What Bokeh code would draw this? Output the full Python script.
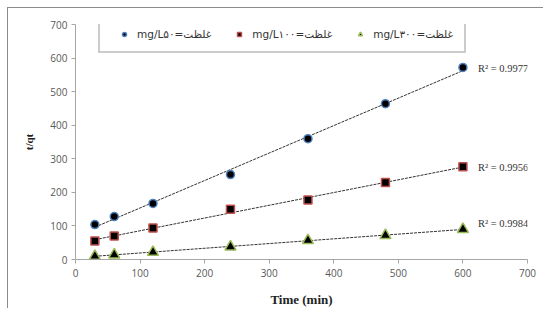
import numpy as np
from bokeh.plotting import figure
from bokeh.models import Legend, LegendItem, Range1d, FixedTicker, Label
from bokeh.embed import file_html
from bokeh.resources import INLINE

time_min = [30, 60, 120, 240, 360, 480, 600]
c50 = [104, 128, 167, 253, 360, 464, 572]
c100 = [55, 70, 94, 150, 177, 229, 276]
c300 = [10, 14, 22, 38, 57, 72, 90]
r2_labels = ["R\u00b2 = 0.9977", "R\u00b2 = 0.9956", "R\u00b2 = 0.9984"]
legend_labels = ["mg/L\u063a\u0644\u0638\u062a=\u06f5\u06f0",
                 "mg/L\u063a\u0644\u0638\u062a=\u06f1\u06f0\u06f0",
                 "mg/L\u063a\u0644\u0638\u062a=\u06f3\u06f0\u06f0"]
label_dy = [2, 0, 6]

p = figure(width=536, height=301, output_backend="svg", toolbar_location=None,
           x_range=Range1d(0, 700), y_range=Range1d(0, 700),
           min_border_left=67, min_border_right=17, min_border_top=16, min_border_bottom=50,
           styles={"margin-left": "7px", "margin-top": "7px",
                   "border-left": "1px solid #8c8c8c", "border-top": "1px solid #8c8c8c"})
p.outline_line_color = None
p.grid.visible = False
p.background_fill_color = "white"

for ax in (p.xaxis[0], p.yaxis[0]):
    ax.ticker = FixedTicker(ticks=list(range(0, 701, 100)))
    ax.axis_line_color = "#a6a6a6"
    ax.major_tick_line_color = "#a6a6a6"
    ax.minor_tick_line_color = None
    ax.major_tick_out = 4
    ax.major_tick_in = 0
    ax.major_label_text_font = "Open Sans"
    ax.major_label_text_font_size = "10px"
    ax.major_label_text_color = "#595959"
    ax.axis_label_text_font = "Liberation Serif"
    ax.axis_label_text_font_style = "bold"
    ax.axis_label_text_color = "#222222"

p.xaxis.axis_label = "Time (min)"
p.xaxis.axis_label_text_font_size = "13px"
p.xaxis.major_label_standoff = 5
p.xaxis.axis_label_standoff = 12
p.yaxis.axis_label = "t/qt"
p.yaxis.axis_label_text_font_size = "11px"
p.yaxis.major_label_standoff = 4
p.yaxis.axis_label_standoff = 12

series = [
    (c50, "circle", "#4F81BD", 8),
    (c100, "square", "#C0504D", 8),
    (c300, "triangle", "#9BBB59", 11),
]
items = []
for i, (vals, marker, edge, size) in enumerate(series):
    x = np.array(time_min, dtype=float)
    y = np.array(vals, dtype=float)
    m, b = np.polyfit(x, y, 1)
    p.line([x[0], x[-1]], [m * x[0] + b, m * x[-1] + b], line_color="#333333",
           line_width=1, line_dash="3 1")
    r = p.scatter(x, y, marker=marker, size=size, fill_color="black",
                  line_color=edge, line_width=1.5)
    items.append(LegendItem(label=legend_labels[i], renderers=[r]))
    p.add_layout(Label(x=x[-1], y=m * x[-1] + b, text=r2_labels[i], x_offset=15,
                       y_offset=label_dy[i], text_font="Liberation Serif",
                       text_font_size="10.5px", text_color="#333333",
                       text_baseline="middle", text_align="left"))

legend = Legend(items=items, orientation="horizontal", location=(23, 206),
                border_line_color="#999999", border_line_width=2,
                label_text_font="DejaVu Sans", label_text_font_size="10.5px",
                label_text_color="#333333", glyph_width=26, glyph_height=10,
                label_standoff=-6, spacing=15, padding=11, margin=0,
                background_fill_alpha=1.0)
p.add_layout(legend, "center")

open("out.html", "w").write(file_html(p, INLINE))
